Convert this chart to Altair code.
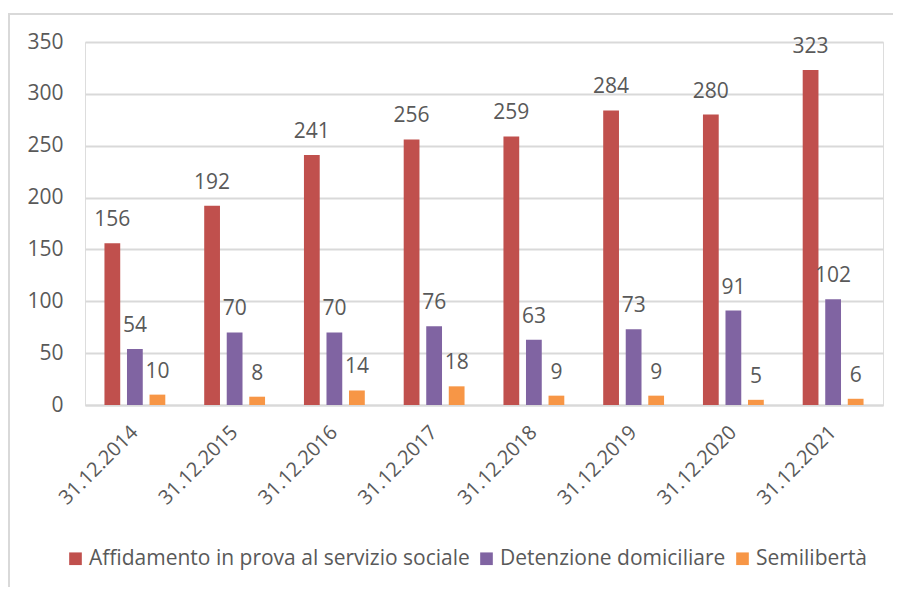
import altair as alt
import pandas as pd

dates = ["31.12.2014", "31.12.2015", "31.12.2016", "31.12.2017",
         "31.12.2018", "31.12.2019", "31.12.2020", "31.12.2021"]
series = ["Affidamento in prova al servizio sociale", "Detenzione domiciliare", "Semilibertà"]
affidamento = [156, 192, 241, 256, 259, 284, 280, 323]
detenzione = [54, 70, 70, 76, 63, 73, 91, 102]
semiliberta = [10, 8, 14, 18, 9, 9, 5, 6]
colors = ["#C0504D", "#8064A2", "#F79646"]

rows = []
for vals, s in zip([affidamento, detenzione, semiliberta], series):
    for d, v in zip(dates, vals):
        rows.append({"date": d, "series": s, "value": v})
df = pd.DataFrame(rows)

FONT = "Open Sans"
GRAY = "#595959"

x = alt.X("date:N", sort=dates, title=None,
          scale=alt.Scale(paddingInner=0.39, paddingOuter=0.195),
          axis=alt.Axis(labelAngle=-45, labelAlign="right", labelBaseline="middle",
                        labelPadding=24, ticks=False, domainColor="#D9D9D9", domainWidth=2,
                        labelColor=GRAY, labelFontSize=20, labelFont=FONT))
xo = alt.XOffset("series:N", sort=series, scale=alt.Scale(paddingInner=0.3, paddingOuter=0))
y = alt.Y("value:Q", title=None,
          scale=alt.Scale(domain=[0, 350], nice=False),
          axis=alt.Axis(values=[0, 50, 100, 150, 200, 250, 300, 350], ticks=False, domain=False,
                        gridColor="#D9D9D9", gridWidth=2, labelPadding=22,
                        labelColor=GRAY, labelFontSize=21, labelFont=FONT))
color = alt.Color("series:N", sort=series,
                  scale=alt.Scale(domain=series, range=colors),
                  legend=alt.Legend(title=None, orient="none", direction="horizontal",
                                    legendX=-20, legendY=506, symbolType="square",
                                    symbolSize=160, symbolStrokeWidth=0, labelFontSize=21,
                                    labelFont=FONT, labelColor=GRAY, columnPadding=6,
                                    labelOffset=3, labelLimit=600))

bars = alt.Chart(df).mark_bar().encode(x=x, xOffset=xo, y=y, color=color)
labels = alt.Chart(df).mark_text(baseline="alphabetic", dy=-17, fontSize=21,
                                 font=FONT, color=GRAY).encode(
    x=x, xOffset=xo, y=y, text="value:Q")

frame = alt.Chart(pd.DataFrame({"a": [0]})).mark_rect(
    fill=None, stroke="#D9D9D9", strokeWidth=2).encode(
    x=alt.value(-76), x2=alt.value(1000), y=alt.value(-28), y2=alt.value(700))

chart = alt.layer(frame, bars, labels).properties(
    width=798, height=363, autosize=alt.AutoSizeParams(type="none"),
    padding={"left": 77, "top": 34, "right": 10, "bottom": 182}
).configure_view(stroke=None).configure(background="white")

chart.save("out.html", embed_options={"renderer": "svg", "actions": False})
